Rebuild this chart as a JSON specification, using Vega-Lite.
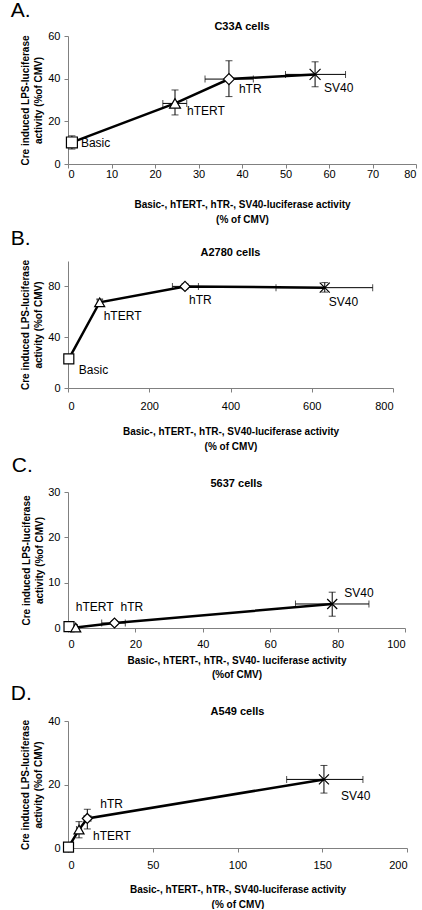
{
  "$schema": "https://vega.github.io/schema/vega-lite/v6.json",
  "padding": {"left": 10, "top": 0, "right": 0, "bottom": 0},
  "spacing": 4,
  "config": {
    "font": "Liberation Sans",
    "view": {"stroke": null},
    "axis": {"grid": false, "domainColor": "#808080", "tickColor": "#808080", "tickSize": 4, "labelFontSize": 11, "labelColor": "black", "labelOverlap": false, "titleFontSize": 10, "titleFontWeight": "bold", "titleColor": "black", "labelFont": "Liberation Sans", "titleFont": "Liberation Sans"},
    "axisX": {"titleLineHeight": 15},
    "axisY": {"titleLineHeight": 13, "labelPadding": 4, "labelOverlap": false, "labelSeparation": -30, "labelAlign": "right", "labelBaseline": "middle"},
    "rule": {"color": "black", "strokeWidth": 1},
    "tick": {"color": "black", "thickness": 1, "size": 7},
    "title": {"font": "Liberation Sans", "fontSize": 11, "fontWeight": "bold", "color": "black"}
  },
  "datasets": {
    "A": [
      {"series": "Basic", "order": 1, "x": 0.9, "y": 10.1, "xlo": 0.5, "xhi": 1.3, "ylo": 7, "yhi": 13.2},
      {"series": "hTERT", "order": 2, "x": 24.6, "y": 28.4, "xlo": 21.8, "xhi": 27.3, "ylo": 23, "yhi": 34.7},
      {"series": "hTR", "order": 3, "x": 37, "y": 39.8, "xlo": 31.5, "xhi": 42.6, "ylo": 31.6, "yhi": 48.4},
      {"series": "SV40", "order": 4, "x": 56.8, "y": 42, "xlo": 50, "xhi": 63.8, "ylo": 36.2, "yhi": 47.9}
    ],
    "B": [
      {"series": "Basic", "order": 1, "x": 2, "y": 23, "xlo": 0, "xhi": 4, "ylo": 21, "yhi": 25},
      {"series": "hTERT", "order": 2, "x": 78, "y": 67.5, "xlo": 72, "xhi": 84, "ylo": 65, "yhi": 70},
      {"series": "hTR", "order": 3, "x": 288, "y": 80, "xlo": 257, "xhi": 321, "ylo": 78, "yhi": 82},
      {"series": "SV40", "order": 4, "x": 632, "y": 79, "xlo": 512, "xhi": 750, "ylo": 75.5, "yhi": 83}
    ],
    "C": [
      {"series": "Basic", "order": 1, "x": 0.3, "y": 0.3, "xlo": 0.1, "xhi": 0.5, "ylo": 0.1, "yhi": 0.5},
      {"series": "hTERT", "order": 2, "x": 2.3, "y": 0.1, "xlo": 1.8, "xhi": 2.8, "ylo": 0, "yhi": 0.3},
      {"series": "hTR", "order": 3, "x": 13.8, "y": 1.1, "xlo": 10, "xhi": 17, "ylo": 0.7, "yhi": 1.5},
      {"series": "SV40", "order": 4, "x": 78.4, "y": 5.3, "xlo": 67.5, "xhi": 89.3, "ylo": 2.6, "yhi": 7.9}
    ],
    "D": [
      {"series": "Basic", "order": 1, "x": 0.3, "y": 0.3, "xlo": 0, "xhi": 0.6, "ylo": 0, "yhi": 0.6},
      {"series": "hTERT", "order": 2, "x": 6.5, "y": 5.8, "xlo": 5, "xhi": 8, "ylo": 3.2, "yhi": 8.3},
      {"series": "hTR", "order": 3, "x": 11.4, "y": 9.3, "xlo": 9.5, "xhi": 13.5, "ylo": 6, "yhi": 12.2},
      {"series": "SV40", "order": 4, "x": 151, "y": 21.6, "xlo": 129, "xhi": 174, "ylo": 17.3, "yhi": 26}
    ]
  },
  "vconcat": [
    {
      "title": {"text": "A.", "anchor": "start", "frame": "bounds", "fontSize": 21, "fontWeight": "normal", "offset": -3, "dx": -10, "dy": -3},
      "vconcat": [{
        "width": 348, "height": 128,
        "title": {"text": "C33A cells", "offset": -2},
        "data": {"name": "A"},
        "layer": [
          {"mark": "rule", "encoding": {"x": {"field": "xlo", "type": "quantitative", "scale": {"domain": [0, 80], "nice": false}}, "x2": {"field": "xhi"}, "y": {"field": "y", "type": "quantitative", "scale": {"domain": [0, 60], "nice": false}}}},
          {"transform": [{"fold": ["xlo", "xhi"], "as": ["end", "xcap"]}], "mark": {"type": "tick", "orient": "vertical"}, "encoding": {"x": {"field": "xcap", "type": "quantitative", "scale": {"domain": [0, 80], "nice": false}}, "y": {"field": "y", "type": "quantitative", "scale": {"domain": [0, 60], "nice": false}}}},
          {"mark": "rule", "encoding": {"y": {"field": "ylo", "type": "quantitative", "scale": {"domain": [0, 60], "nice": false}}, "y2": {"field": "yhi"}, "x": {"field": "x", "type": "quantitative", "scale": {"domain": [0, 80], "nice": false}}}},
          {"transform": [{"fold": ["ylo", "yhi"], "as": ["end", "ycap"]}], "mark": {"type": "tick", "orient": "horizontal"}, "encoding": {"y": {"field": "ycap", "type": "quantitative", "scale": {"domain": [0, 60], "nice": false}}, "x": {"field": "x", "type": "quantitative", "scale": {"domain": [0, 80], "nice": false}}}},
          {"mark": {"type": "line", "color": "black", "strokeWidth": 2.5},
           "encoding": {
             "x": {"field": "x", "type": "quantitative", "scale": {"domain": [0, 80], "nice": false}, "axis": {"values": [0, 10, 20, 30, 40, 50, 60, 70, 80], "labelPadding": 0, "titlePadding": 20, "titleLineHeight": 15}, "title": ["Basic-, hTERT-, hTR-, SV40-luciferase activity", "(% of CMV)"]},
             "y": {"field": "y", "type": "quantitative", "scale": {"domain": [0, 60], "nice": false}, "axis": {"values": [0, 10, 20, 30, 40, 50, 60], "labelOverlap": false, "labelSeparation": -30, "titlePadding": 4}, "title": ["Cre induced LPS-luciferase", "activity (%of CMV)"]},
             "order": {"field": "order"}}},
          {"mark": {"type": "point", "filled": true, "fill": "white", "stroke": "black", "strokeWidth": 1.2, "size": 120, "opacity": 1},
           "encoding": {"x": {"field": "x", "type": "quantitative", "scale": {"domain": [0, 80], "nice": false}}, "y": {"field": "y", "type": "quantitative", "scale": {"domain": [0, 60], "nice": false}},
             "shape": {"field": "series", "type": "nominal", "scale": {"domain": ["Basic", "hTERT", "hTR", "SV40"], "range": ["square", "triangle-up", "diamond", "M-1,-1L1,1M-1,1L1,-1"]}, "legend": null}}},
          {"transform": [{"filter": "datum.series === 'Basic'"}], "mark": {"type": "text", "align": "left", "baseline": "middle", "fontSize": 12, "dx": 9, "dy": 1},
           "encoding": {"x": {"field": "x", "type": "quantitative", "scale": {"domain": [0, 80], "nice": false}}, "y": {"field": "y", "type": "quantitative", "scale": {"domain": [0, 60], "nice": false}}, "text": {"field": "series"}}},
          {"transform": [{"filter": "datum.series === 'hTERT'"}], "mark": {"type": "text", "align": "left", "baseline": "middle", "fontSize": 12, "dx": 12, "dy": 8},
           "encoding": {"x": {"field": "x", "type": "quantitative", "scale": {"domain": [0, 80], "nice": false}}, "y": {"field": "y", "type": "quantitative", "scale": {"domain": [0, 60], "nice": false}}, "text": {"field": "series"}}},
          {"transform": [{"filter": "datum.series === 'hTR'"}], "mark": {"type": "text", "align": "left", "baseline": "middle", "fontSize": 12, "dx": 10, "dy": 10},
           "encoding": {"x": {"field": "x", "type": "quantitative", "scale": {"domain": [0, 80], "nice": false}}, "y": {"field": "y", "type": "quantitative", "scale": {"domain": [0, 60], "nice": false}}, "text": {"field": "series"}}},
          {"transform": [{"filter": "datum.series === 'SV40'"}], "mark": {"type": "text", "align": "left", "baseline": "middle", "fontSize": 12, "dx": 9, "dy": 14},
           "encoding": {"x": {"field": "x", "type": "quantitative", "scale": {"domain": [0, 80], "nice": false}}, "y": {"field": "y", "type": "quantitative", "scale": {"domain": [0, 60], "nice": false}}, "text": {"field": "series"}}}
        ]
      }]
    },
    {
      "title": {"text": "B.", "anchor": "start", "frame": "bounds", "fontSize": 21, "fontWeight": "normal", "offset": -2, "dx": -10},
      "vconcat": [{
        "width": 325, "height": 127,
        "title": {"text": "A2780 cells", "offset": 1},
        "data": {"name": "B"},
        "layer": [
          {"mark": "rule", "encoding": {"x": {"field": "xlo", "type": "quantitative", "scale": {"domain": [0, 800], "nice": false}}, "x2": {"field": "xhi"}, "y": {"field": "y", "type": "quantitative", "scale": {"domain": [0, 100], "nice": false}}}},
          {"transform": [{"fold": ["xlo", "xhi"], "as": ["end", "xcap"]}], "mark": {"type": "tick", "orient": "vertical"}, "encoding": {"x": {"field": "xcap", "type": "quantitative", "scale": {"domain": [0, 800], "nice": false}}, "y": {"field": "y", "type": "quantitative", "scale": {"domain": [0, 100], "nice": false}}}},
          {"mark": "rule", "encoding": {"y": {"field": "ylo", "type": "quantitative", "scale": {"domain": [0, 100], "nice": false}}, "y2": {"field": "yhi"}, "x": {"field": "x", "type": "quantitative", "scale": {"domain": [0, 800], "nice": false}}}},
          {"transform": [{"fold": ["ylo", "yhi"], "as": ["end", "ycap"]}], "mark": {"type": "tick", "orient": "horizontal"}, "encoding": {"y": {"field": "ycap", "type": "quantitative", "scale": {"domain": [0, 100], "nice": false}}, "x": {"field": "x", "type": "quantitative", "scale": {"domain": [0, 800], "nice": false}}}},
          {"mark": {"type": "line", "color": "black", "strokeWidth": 2.5},
           "encoding": {
             "x": {"field": "x", "type": "quantitative", "scale": {"domain": [0, 800], "nice": false}, "axis": {"values": [0, 200, 400, 600, 800], "labelPadding": 8, "titlePadding": 15, "titleLineHeight": 15}, "title": ["Basic-, hTERT-, hTR-, SV40-luciferase activity", "(% of CMV)"]},
             "y": {"field": "y", "type": "quantitative", "scale": {"domain": [0, 100], "nice": false}, "axis": {"values": [0, 20, 40, 60, 80, 100], "labelOverlap": false, "labelSeparation": -30, "titlePadding": 4}, "title": ["Cre induced LPS-luciferase", "activity (%of CMV)"]},
             "order": {"field": "order"}}},
          {"mark": {"type": "point", "filled": true, "fill": "white", "stroke": "black", "strokeWidth": 1.2, "size": 100, "opacity": 1},
           "encoding": {"x": {"field": "x", "type": "quantitative", "scale": {"domain": [0, 800], "nice": false}}, "y": {"field": "y", "type": "quantitative", "scale": {"domain": [0, 100], "nice": false}},
             "shape": {"field": "series", "type": "nominal", "scale": {"domain": ["Basic", "hTERT", "hTR", "SV40"], "range": ["square", "triangle-up", "diamond", "M-1,-1L1,1M-1,1L1,-1"]}, "legend": null}}},
          {"transform": [{"filter": "datum.series === 'Basic'"}], "mark": {"type": "text", "align": "left", "baseline": "middle", "fontSize": 12, "dx": 10, "dy": 11},
           "encoding": {"x": {"field": "x", "type": "quantitative", "scale": {"domain": [0, 800], "nice": false}}, "y": {"field": "y", "type": "quantitative", "scale": {"domain": [0, 100], "nice": false}}, "text": {"field": "series"}}},
          {"transform": [{"filter": "datum.series !== 'Basic'"}], "mark": {"type": "text", "align": "left", "baseline": "middle", "fontSize": 12, "dx": 4, "dy": 14},
           "encoding": {"x": {"field": "x", "type": "quantitative", "scale": {"domain": [0, 800], "nice": false}}, "y": {"field": "y", "type": "quantitative", "scale": {"domain": [0, 100], "nice": false}}, "text": {"field": "series"}}}
        ]
      }]
    },
    {
      "title": {"text": "C.", "anchor": "start", "frame": "bounds", "fontSize": 21, "fontWeight": "normal", "offset": 2, "dx": -10},
      "vconcat": [{
        "width": 337, "height": 136,
        "title": {"text": "5637 cells", "offset": -3},
        "data": {"name": "C"},
        "layer": [
          {"mark": "rule", "encoding": {"x": {"field": "xlo", "type": "quantitative", "scale": {"domain": [0, 100], "nice": false}}, "x2": {"field": "xhi"}, "y": {"field": "y", "type": "quantitative", "scale": {"domain": [0, 30], "nice": false}}}},
          {"transform": [{"fold": ["xlo", "xhi"], "as": ["end", "xcap"]}], "mark": {"type": "tick", "orient": "vertical"}, "encoding": {"x": {"field": "xcap", "type": "quantitative", "scale": {"domain": [0, 100], "nice": false}}, "y": {"field": "y", "type": "quantitative", "scale": {"domain": [0, 30], "nice": false}}}},
          {"mark": "rule", "encoding": {"y": {"field": "ylo", "type": "quantitative", "scale": {"domain": [0, 30], "nice": false}}, "y2": {"field": "yhi"}, "x": {"field": "x", "type": "quantitative", "scale": {"domain": [0, 100], "nice": false}}}},
          {"transform": [{"fold": ["ylo", "yhi"], "as": ["end", "ycap"]}], "mark": {"type": "tick", "orient": "horizontal"}, "encoding": {"y": {"field": "ycap", "type": "quantitative", "scale": {"domain": [0, 30], "nice": false}}, "x": {"field": "x", "type": "quantitative", "scale": {"domain": [0, 100], "nice": false}}}},
          {"mark": {"type": "line", "color": "black", "strokeWidth": 2.5},
           "encoding": {
             "x": {"field": "x", "type": "quantitative", "scale": {"domain": [0, 100], "nice": false}, "axis": {"values": [0, 20, 40, 60, 80, 100], "labelPadding": 6, "titlePadding": 6, "titleLineHeight": 14}, "title": ["Basic-, hTERT-, hTR-, SV40- luciferase activity", "(%of CMV)"]},
             "y": {"field": "y", "type": "quantitative", "scale": {"domain": [0, 30], "nice": false}, "axis": {"values": [0, 5, 10, 15, 20, 25, 30], "labelOverlap": false, "labelSeparation": -30, "titlePadding": 3}, "title": ["Cre induced LPS-luciferase", "activity (%of CMV)"]},
             "order": {"field": "order"}}},
          {"mark": {"type": "point", "filled": true, "fill": "white", "stroke": "black", "strokeWidth": 1.2, "size": 100, "opacity": 1},
           "encoding": {"x": {"field": "x", "type": "quantitative", "scale": {"domain": [0, 100], "nice": false}}, "y": {"field": "y", "type": "quantitative", "scale": {"domain": [0, 30], "nice": false}},
             "shape": {"field": "series", "type": "nominal", "scale": {"domain": ["Basic", "hTERT", "hTR", "SV40"], "range": ["square", "triangle-up", "diamond", "M-1,-1L1,1M-1,1L1,-1"]}, "legend": null}}},
          {"transform": [{"filter": "datum.series === 'hTERT'"}], "mark": {"type": "text", "align": "left", "baseline": "middle", "fontSize": 12, "dx": 0, "dy": -21},
           "encoding": {"x": {"field": "x", "type": "quantitative", "scale": {"domain": [0, 100], "nice": false}}, "y": {"field": "y", "type": "quantitative", "scale": {"domain": [0, 30], "nice": false}}, "text": {"field": "series"}}},
          {"transform": [{"filter": "datum.series === 'hTR'"}], "mark": {"type": "text", "align": "left", "baseline": "middle", "fontSize": 12, "dx": 6, "dy": -16},
           "encoding": {"x": {"field": "x", "type": "quantitative", "scale": {"domain": [0, 100], "nice": false}}, "y": {"field": "y", "type": "quantitative", "scale": {"domain": [0, 30], "nice": false}}, "text": {"field": "series"}}},
          {"transform": [{"filter": "datum.series === 'SV40'"}], "mark": {"type": "text", "align": "left", "baseline": "middle", "fontSize": 12, "dx": 12, "dy": -11},
           "encoding": {"x": {"field": "x", "type": "quantitative", "scale": {"domain": [0, 100], "nice": false}}, "y": {"field": "y", "type": "quantitative", "scale": {"domain": [0, 30], "nice": false}}, "text": {"field": "series"}}}
        ]
      }]
    },
    {
      "title": {"text": "D.", "anchor": "start", "frame": "bounds", "fontSize": 21, "fontWeight": "normal", "offset": 2, "dx": -10},
      "vconcat": [{
        "width": 339, "height": 127,
        "title": {"text": "A549 cells", "offset": -2},
        "data": {"name": "D"},
        "layer": [
          {"mark": "rule", "encoding": {"x": {"field": "xlo", "type": "quantitative", "scale": {"domain": [0, 200], "nice": false}}, "x2": {"field": "xhi"}, "y": {"field": "y", "type": "quantitative", "scale": {"domain": [0, 40], "nice": false}}}},
          {"transform": [{"fold": ["xlo", "xhi"], "as": ["end", "xcap"]}], "mark": {"type": "tick", "orient": "vertical"}, "encoding": {"x": {"field": "xcap", "type": "quantitative", "scale": {"domain": [0, 200], "nice": false}}, "y": {"field": "y", "type": "quantitative", "scale": {"domain": [0, 40], "nice": false}}}},
          {"mark": "rule", "encoding": {"y": {"field": "ylo", "type": "quantitative", "scale": {"domain": [0, 40], "nice": false}}, "y2": {"field": "yhi"}, "x": {"field": "x", "type": "quantitative", "scale": {"domain": [0, 200], "nice": false}}}},
          {"transform": [{"fold": ["ylo", "yhi"], "as": ["end", "ycap"]}], "mark": {"type": "tick", "orient": "horizontal"}, "encoding": {"y": {"field": "ycap", "type": "quantitative", "scale": {"domain": [0, 40], "nice": false}}, "x": {"field": "x", "type": "quantitative", "scale": {"domain": [0, 200], "nice": false}}}},
          {"mark": {"type": "line", "color": "black", "strokeWidth": 2.5},
           "encoding": {
             "x": {"field": "x", "type": "quantitative", "scale": {"domain": [0, 200], "nice": false}, "axis": {"values": [0, 50, 100, 150, 200], "labelPadding": 7, "titlePadding": 14, "titleLineHeight": 15}, "title": ["Basic-, hTERT-, hTR-, SV40-luciferase activity", "(% of CMV)"]},
             "y": {"field": "y", "type": "quantitative", "scale": {"domain": [0, 40], "nice": false}, "axis": {"values": [0, 5, 10, 15, 20, 25, 30, 35, 40], "labelOverlap": false, "labelSeparation": -30, "titlePadding": 4}, "title": ["Cre induced LPS-luciferase", "activity (%of CMV)"]},
             "order": {"field": "order"}}},
          {"mark": {"type": "point", "filled": true, "fill": "white", "stroke": "black", "strokeWidth": 1.2, "size": 100, "opacity": 1},
           "encoding": {"x": {"field": "x", "type": "quantitative", "scale": {"domain": [0, 200], "nice": false}}, "y": {"field": "y", "type": "quantitative", "scale": {"domain": [0, 40], "nice": false}},
             "shape": {"field": "series", "type": "nominal", "scale": {"domain": ["Basic", "hTERT", "hTR", "SV40"], "range": ["square", "triangle-up", "diamond", "M-1,-1L1,1M-1,1L1,-1"]}, "legend": null}}},
          {"transform": [{"filter": "datum.series === 'hTERT'"}], "mark": {"type": "text", "align": "left", "baseline": "middle", "fontSize": 12, "dx": 14, "dy": 6},
           "encoding": {"x": {"field": "x", "type": "quantitative", "scale": {"domain": [0, 200], "nice": false}}, "y": {"field": "y", "type": "quantitative", "scale": {"domain": [0, 40], "nice": false}}, "text": {"field": "series"}}},
          {"transform": [{"filter": "datum.series === 'hTR'"}], "mark": {"type": "text", "align": "left", "baseline": "middle", "fontSize": 12, "dx": 13, "dy": -14},
           "encoding": {"x": {"field": "x", "type": "quantitative", "scale": {"domain": [0, 200], "nice": false}}, "y": {"field": "y", "type": "quantitative", "scale": {"domain": [0, 40], "nice": false}}, "text": {"field": "series"}}},
          {"transform": [{"filter": "datum.series === 'SV40'"}], "mark": {"type": "text", "align": "left", "baseline": "middle", "fontSize": 12, "dx": 17, "dy": 17},
           "encoding": {"x": {"field": "x", "type": "quantitative", "scale": {"domain": [0, 200], "nice": false}}, "y": {"field": "y", "type": "quantitative", "scale": {"domain": [0, 40], "nice": false}}, "text": {"field": "series"}}}
        ]
      }]
    }
  ]
}
